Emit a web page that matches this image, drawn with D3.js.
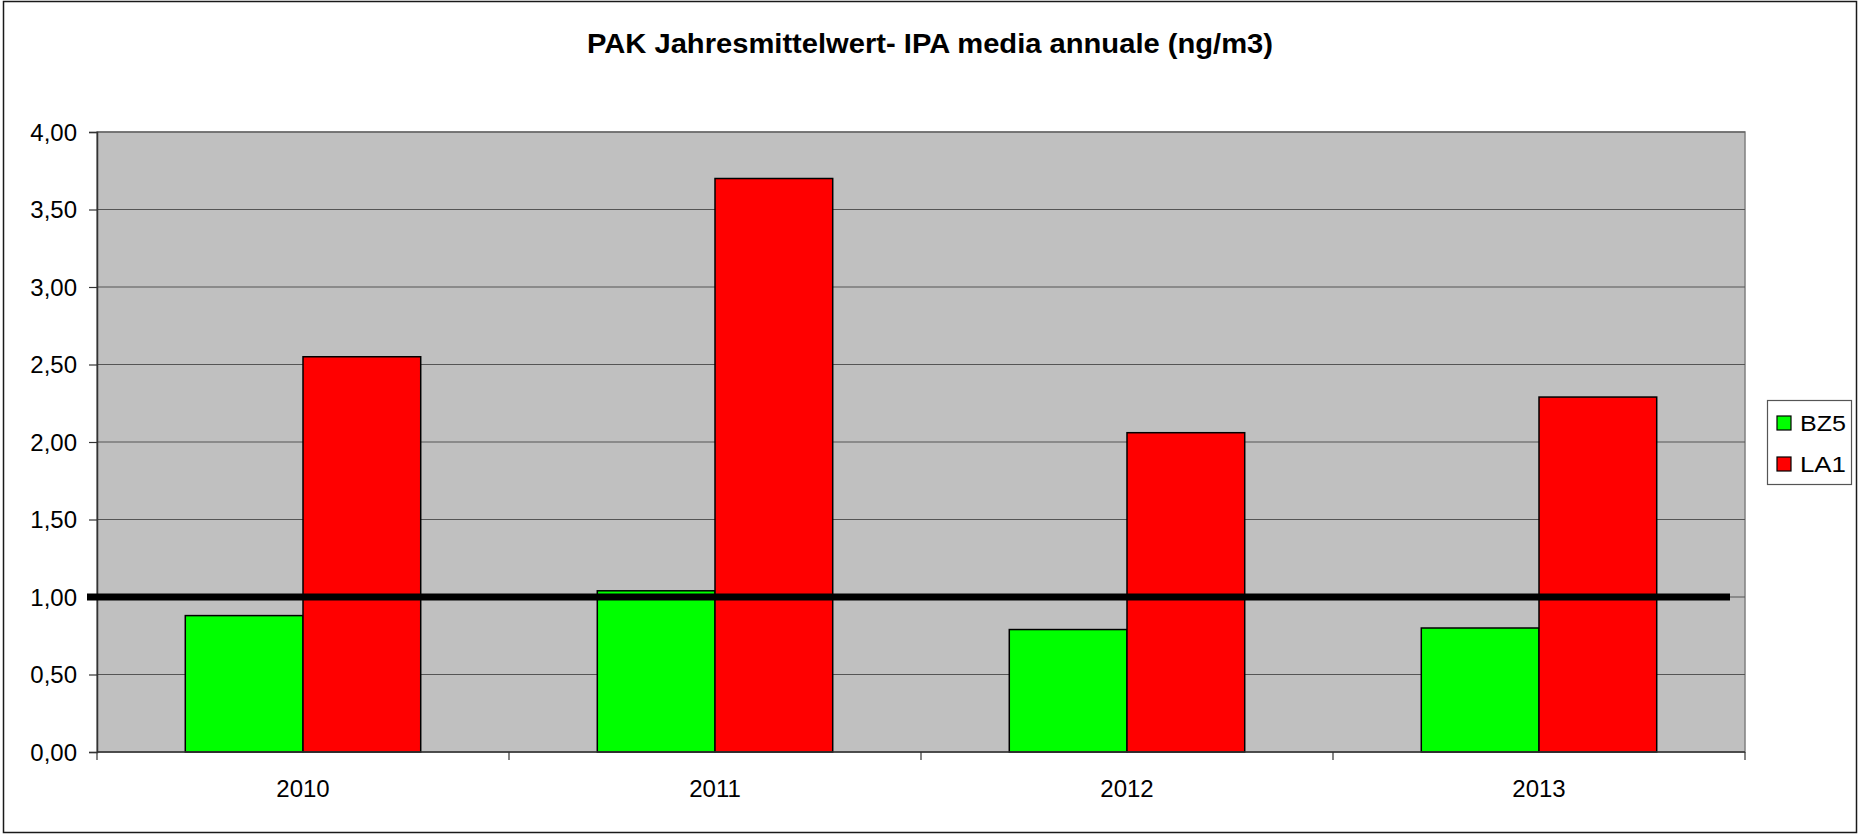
<!DOCTYPE html>
<html>
<head>
<meta charset="utf-8">
<script src="https://cdn.jsdelivr.net/npm/d3@7"></script>
<style>
    html, body { margin: 0; padding: 0; background: #fff; }
    svg text { font-family: "Liberation Sans", Arial, sans-serif; fill: #000; }
</style>
</head>
<body>
<div id="view"></div>
<script>
var title = 'PAK Jahresmittelwert- IPA media annuale (ng/m3)';
var years = ['2010', '2011', '2012', '2013'];
var seriesNames = ['BZ5', 'LA1'];
var bz5 = [0.88, 1.04, 0.79, 0.80];
var la1 = [2.55, 3.70, 2.06, 2.29];
var colors = ['#00ff00', '#ff0000'];
var yTicks = [0, 0.5, 1, 1.5, 2, 2.5, 3, 3.5, 4];
var threshold = 1.0;

var W = 1858, H = 834;
var plot = {left: 97, right: 1745, top: 132, bottom: 752};
var fmt = d => d.toFixed(2).replace('.', ',');

var svg = d3.select('#view').append('svg')
    .attr('width', W)
    .attr('height', H);

// outer chart border
svg.append('rect')
    .attr('x', 3.5).attr('y', 1.5)
    .attr('width', W - 5).attr('height', H - 3)
    .attr('fill', '#fff')
    .attr('stroke', '#1a1a1a')
    .attr('stroke-width', 1.5);

var x = d3.scaleBand()
    .domain(years)
    .range([plot.left, plot.right])
    .paddingInner(0)
    .paddingOuter(0);

var gap = 1.5;
var groupWidth = x.bandwidth() * seriesNames.length / (seriesNames.length + gap);
var xs = d3.scaleBand()
    .domain(seriesNames)
    .range([0, groupWidth]);

var y = d3.scaleLinear()
    .domain([0, 4])
    .range([plot.bottom, plot.top]);

// plot background
svg.append('rect')
    .attr('x', plot.left).attr('y', plot.top)
    .attr('width', plot.right - plot.left)
    .attr('height', plot.bottom - plot.top)
    .attr('fill', '#c0c0c0')
    .attr('stroke', '#808080')
    .attr('stroke-width', 1.5);

// gridlines
svg.append('g')
    .selectAll('line')
    .data(yTicks.filter(d => d > 0))
    .enter()
    .append('line')
    .attr('x1', plot.left).attr('x2', plot.right)
    .attr('y1', d => y(d)).attr('y2', d => y(d))
    .attr('stroke', '#555')
    .attr('stroke-width', 1.2);

// y axis
var yAxis = svg.append('g')
    .attr('transform', `translate(${plot.left}, 0)`)
    .call(d3.axisLeft(y).tickValues(yTicks).tickFormat(fmt).tickSize(8).tickPadding(12));
yAxis.select('.domain').attr('stroke', '#333').attr('stroke-width', 1.5);
yAxis.selectAll('.tick line').attr('stroke', '#333').attr('stroke-width', 1.2);
yAxis.selectAll('.tick text')
    .style('font-size', '24px')
    .attr('dy', '0.35em');

// bars
var rows = years.map((yr, i) => ({year: yr, values: [bz5[i], la1[i]]}));
var groups = svg.append('g')
    .selectAll('g')
    .data(rows)
    .enter()
    .append('g')
    .attr('transform', d => `translate(${x(d.year) + (x.bandwidth() - groupWidth) / 2}, 0)`);

groups.selectAll('rect')
    .data(d => d.values.map((v, j) => ({name: seriesNames[j], value: v, color: colors[j]})))
    .enter()
    .append('rect')
    .attr('x', d => xs(d.name))
    .attr('y', d => y(d.value))
    .attr('width', xs.bandwidth())
    .attr('height', d => y(0) - y(d.value))
    .attr('fill', d => d.color)
    .attr('stroke', '#000')
    .attr('stroke-width', 1.5);

// x axis
svg.append('line')
    .attr('x1', plot.left).attr('x2', plot.right)
    .attr('y1', plot.bottom).attr('y2', plot.bottom)
    .attr('stroke', '#333')
    .attr('stroke-width', 1.5);

var bounds = years.map(d => x(d)).concat([plot.right]);
svg.append('g')
    .selectAll('line')
    .data(bounds)
    .enter()
    .append('line')
    .attr('x1', d => d).attr('x2', d => d)
    .attr('y1', plot.bottom).attr('y2', plot.bottom + 8)
    .attr('stroke', '#333')
    .attr('stroke-width', 1.2);

svg.append('g')
    .selectAll('text')
    .data(years)
    .enter()
    .append('text')
    .attr('x', d => x(d) + x.bandwidth() / 2)
    .attr('y', plot.bottom + 45)
    .attr('text-anchor', 'middle')
    .style('font-size', '24px')
    .text(d => d);

// threshold line (drawn over the chart)
svg.append('line')
    .attr('x1', plot.left - 10).attr('x2', plot.right - 15)
    .attr('y1', y(threshold)).attr('y2', y(threshold))
    .attr('stroke', '#000')
    .attr('stroke-width', 7);

// title
svg.append('text')
    .attr('x', 930)
    .attr('y', 53)
    .attr('text-anchor', 'middle')
    .attr('textLength', 686)
    .attr('lengthAdjust', 'spacingAndGlyphs')
    .style('font-size', '28px')
    .style('font-weight', 'bold')
    .text(title);

// legend
var legend = svg.append('g').attr('transform', 'translate(1767, 400)');
legend.append('rect')
    .attr('x', 0.5).attr('y', 0.5)
    .attr('width', 84).attr('height', 84)
    .attr('fill', '#fff')
    .attr('stroke', '#555')
    .attr('stroke-width', 1.2);

var items = legend.selectAll('g.item')
    .data(seriesNames)
    .enter()
    .append('g')
    .attr('class', 'item')
    .attr('transform', (d, i) => `translate(0, ${16 + i * 41})`);
items.append('rect')
    .attr('x', 10).attr('y', 0)
    .attr('width', 14).attr('height', 14)
    .attr('fill', (d, i) => colors[i])
    .attr('stroke', '#000')
    .attr('stroke-width', 1.2);
items.append('text')
    .attr('x', 33)
    .attr('y', 15)
    .attr('textLength', 46)
    .attr('lengthAdjust', 'spacingAndGlyphs')
    .style('font-size', '22px')
    .text(d => d);
</script>
</body>
</html>
